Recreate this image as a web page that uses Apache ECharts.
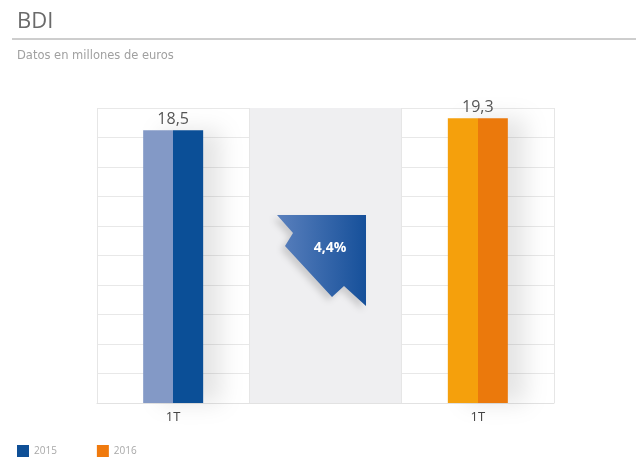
<!DOCTYPE html>
<html><head><meta charset="utf-8">
<script src="https://cdn.jsdelivr.net/npm/echarts@6/dist/echarts.min.js"></script>
<style>html,body{margin:0;padding:0;background:#fff}#c{width:636px;height:460px}</style>
</head><body><div id="c"></div>
<script>
const categories = ['1T', '', '1T'];
const values2015 = [18.5, null, null];
const values2016 = [null, null, 19.3];
const changeLabel = '4,4%';
const yMax = 20;
const yInterval = 2;

function split(light, dark) {
  return new echarts.graphic.LinearGradient(0, 0, 1, 0, [
    {offset: 0, color: light}, {offset: 0.5, color: light},
    {offset: 0.5, color: dark}, {offset: 1, color: dark}
  ]);
}
const fmt = p => String(p.value).replace('.', ',');

const chart = echarts.init(document.getElementById('c'));
chart.setOption({
  animation: false,
  title: [
    {text: 'BDI', left: 12, top: 6, textStyle: {fontFamily: 'Open Sans', fontSize: 22, fontWeight: 'normal', color: '#6a6a6a'}},
    {text: 'Datos en millones de euros', left: 12, top: 45, textStyle: {fontFamily: 'DejaVu Sans', fontSize: 11.5, fontWeight: 'normal', color: '#a0a0a0'}}
  ],
  graphic: [
    {type: 'line', shape: {x1: 12, y1: 39, x2: 636, y2: 39}, style: {stroke: '#9c9c9c', lineWidth: 1}},
    {type: 'polygon', z: 10,
      shape: {points: [[277,215],[366,215],[366,306],[344,286],[332,297],[285,246],[293,233]]},
      style: {fill: new echarts.graphic.LinearGradient(0, 0, 1, 0, [{offset: 0, color: '#5a80bd'}, {offset: 1, color: '#16509a'}]),
        shadowColor: 'rgba(0,0,0,0.15)', shadowBlur: 6, shadowOffsetX: -4, shadowOffsetY: 4}},
    {type: 'text', z: 11, style: {text: changeLabel, x: 330, y: 248, align: 'center', verticalAlign: 'middle',
      fill: '#ffffff', fontSize: 14, fontWeight: 'bold', fontFamily: 'Open Sans'}}
  ],
  legend: {
    left: 12, top: 440, itemWidth: 12, itemHeight: 12, itemGap: 40, icon: 'rect',
    textStyle: {color: '#a8a8a8', fontSize: 10, fontFamily: 'Open Sans'},
    data: [{name: '2015', itemStyle: {color: '#0f4f96'}}, {name: '2016', itemStyle: {color: '#f07a0e'}}]
  },
  grid: {left: 97, right: 82, top: 108, bottom: 57},
  xAxis: {
    type: 'category', data: categories,
    axisLine: {show: true, lineStyle: {color: '#e2e2e2'}},
    axisTick: {show: false},
    axisLabel: {color: '#444', fontSize: 13, margin: 8, fontFamily: 'Open Sans'},
    splitLine: {show: true, lineStyle: {color: '#e6e6e6'}},
    splitArea: {show: true, areaStyle: {color: ['rgba(255,255,255,0)', '#efeff1']}}
  },
  yAxis: {
    type: 'value', min: 0, max: yMax, interval: yInterval,
    axisLabel: {show: false}, axisLine: {show: false}, axisTick: {show: false},
    splitLine: {lineStyle: {color: '#e8e8e8'}}
  },
  series: [
    {name: '2015', type: 'bar', stack: 's', barWidth: 60, data: values2015,
      itemStyle: {color: split('#8399c6', '#0b4f97'), shadowColor: 'rgba(0,0,0,0.10)', shadowBlur: 22, shadowOffsetX: 18},
      label: {show: true, position: 'top', distance: 3, formatter: fmt, color: '#555', fontSize: 16, fontFamily: 'Open Sans'}},
    {name: '2016', type: 'bar', stack: 's', barWidth: 60, data: values2016,
      itemStyle: {color: split('#f5a00c', '#eb790c'), shadowColor: 'rgba(0,0,0,0.10)', shadowBlur: 22, shadowOffsetX: 18},
      label: {show: true, position: 'top', distance: 3, formatter: fmt, color: '#555', fontSize: 16, fontFamily: 'Open Sans'}}
  ]
});
</script></body></html>
